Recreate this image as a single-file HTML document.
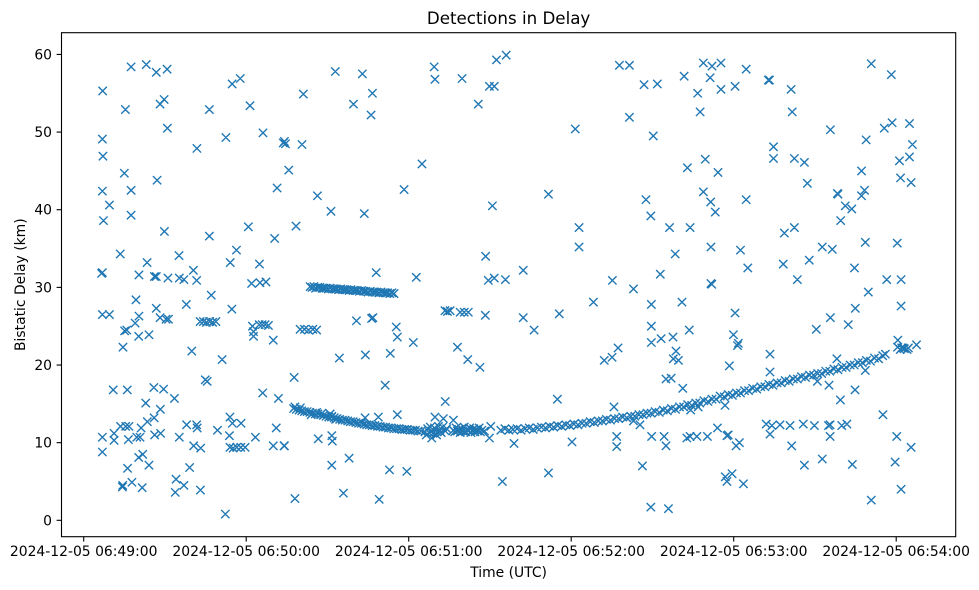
<!DOCTYPE html>
<html><head><meta charset="utf-8"><style>
html,body{margin:0;padding:0;background:#fff;}
svg{display:block;font-family:"DejaVu Sans","Liberation Sans",sans-serif;}
</style></head><body>
<svg id="chart" width="979" height="590" viewBox="0 0 979 590" xmlns="http://www.w3.org/2000/svg">
<rect x="0" y="0" width="979" height="590" fill="#fff"/>
<text x="508.6" y="24" font-size="16.7" text-anchor="middle" fill="#000">Detections in Delay</text>
<text x="508.6" y="577" font-size="13.9" text-anchor="middle" fill="#000">Time (UTC)</text>
<text transform="translate(25,284.7) rotate(-90)" font-size="13.9" text-anchor="middle" fill="#000">Bistatic Delay (km)</text>
<g id="marks"></g>
<g id="axes"></g>
<rect x="61.5" y="32.7" width="894.2" height="504" fill="none" stroke="#000" stroke-width="1.1"/>
</svg>
<script>
// x values: seconds after 06:49:00 ; y values: km
const xTickSecs = [0, 60, 120, 180, 240, 300];
const xTickLabels = ["2024-12-05 06:49:00","2024-12-05 06:50:00","2024-12-05 06:51:00","2024-12-05 06:52:00","2024-12-05 06:53:00","2024-12-05 06:54:00"];
const yTickValues = [0, 10, 20, 30, 40, 50, 60];
const yTickLabels = ["0","10","20","30","40","50","60"];

const scatterLeft = [[7.0,55.3],[17.5,58.4],[23.1,58.7],[26.8,57.7],[30.8,58.1],[15.4,52.9],[28.2,53.6],[29.7,54.2],[30.9,50.5],[6.9,49.1],[7.1,46.9],[15.0,44.7],[27.1,43.8],[6.9,42.4],[17.5,42.5],[9.5,40.6],[7.3,38.6],[17.5,39.3],[29.8,37.2],[13.5,34.3],[23.4,33.2],[35.2,34.1],[6.9,31.9],[6.6,31.8],[20.4,31.6],[26.1,31.4],[26.8,31.4],[31.1,31.2],[35.3,31.2],[37.0,31.0],[40.5,32.2],[41.7,30.9],[19.3,28.4],[37.9,27.8],[47.1,29.0],[54.1,33.2],[56.4,34.8],[46.4,36.6],[60.8,37.8],[70.5,36.3],[64.9,33.0],[62.0,30.5],[65.1,30.6],[67.3,30.7],[6.9,26.5],[9.5,26.5],[20.4,26.3],[26.8,27.3],[28.2,26.1],[30.4,25.9],[31.3,25.9],[19.0,25.4],[15.9,24.5],[15.1,24.4],[20.3,23.7],[24.1,23.9],[14.5,22.3],[39.9,21.8],[51.1,20.7],[43.0,25.6],[44.2,25.6],[45.3,25.5],[46.5,25.6],[47.6,25.5],[48.8,25.6],[54.7,27.2],[62.3,25.0],[62.7,24.3],[62.7,23.7],[64.8,25.2],[65.9,25.2],[67.0,25.2],[68.2,25.1],[70.0,23.2],[44.9,18.1],[45.6,17.9],[10.9,16.8],[16.1,16.8],[25.9,17.1],[29.5,16.9],[22.9,15.1],[28.3,14.3],[33.5,15.7],[66.1,16.4],[71.9,15.7],[6.9,10.7],[6.9,8.8],[11.2,11.2],[11.2,10.3],[13.6,12.1],[15.5,12.1],[16.7,12.1],[16.5,10.4],[19.6,10.7],[20.8,10.7],[21.2,11.9],[23.5,12.7],[26.0,13.2],[26.2,11.0],[28.4,11.2],[35.3,10.7],[38.0,12.3],[41.7,12.3],[41.9,11.9],[49.4,11.6],[54.0,13.3],[54.9,12.5],[58.1,12.5],[53.8,10.9],[63.4,10.7],[71.1,11.9],[40.6,9.6],[43.2,9.3],[54.0,9.4],[55.2,9.3],[56.5,9.4],[58.0,9.4],[59.6,9.4],[70.0,9.6],[74.1,9.6],[20.3,8.1],[21.8,8.5],[16.2,6.7],[24.1,7.1],[39.1,6.8],[14.3,4.3],[14.4,4.5],[17.8,4.9],[21.6,4.2],[34.1,5.3],[37.0,4.5],[33.8,3.6],[43.1,3.9],[52.3,0.8],[73.7,48.6],[74.1,48.8],[74.5,48.5],[75.7,45.1],[52.5,49.3],[54.8,56.2],[57.8,56.9],[61.4,53.4],[46.4,52.9],[66.2,49.9],[41.8,47.9],[71.4,42.8]];

const scatterMid = [[80.6,48.4],[81.1,54.9],[92.9,57.8],[102.9,57.5],[99.6,53.6],[106.6,55.0],[106.1,52.2],[129.4,58.4],[129.7,56.8],[139.7,56.9],[145.7,53.6],[149.8,55.9],[151.6,55.9],[152.4,59.3],[156.0,59.9],[124.9,45.9],[118.3,42.6],[150.9,40.5],[86.3,41.8],[91.3,39.8],[103.6,39.5],[78.4,37.9],[108.0,31.9],[122.8,31.3],[148.4,34.0],[149.4,30.9],[151.6,31.2],[155.7,31.0],[79.9,24.6],[81.5,24.6],[83.0,24.5],[84.6,24.6],[86.0,24.5],[100.7,25.7],[106.3,26.0],[106.8,26.1],[115.4,24.9],[115.8,23.6],[121.7,22.9],[113.2,21.5],[104.0,21.3],[94.4,20.9],[111.3,17.4],[77.7,18.4],[133.4,27.0],[134.3,26.9],[135.3,27.0],[139.0,26.8],[140.5,26.8],[142.0,26.8],[148.3,26.4],[138.0,22.3],[141.8,20.7],[146.3,19.7],[133.5,15.3],[129.7,13.3],[132.8,13.1],[136.5,12.9],[128.5,10.6],[130.3,11.0],[115.8,13.6],[108.8,13.3],[103.9,13.2],[91.6,13.4],[150.3,12.1],[149.8,10.6],[74.0,9.6],[86.6,10.5],[91.6,10.9],[91.8,10.2],[91.6,7.1],[98.0,8.0],[112.9,6.5],[119.3,6.3],[78.0,2.8],[95.9,3.5],[109.1,2.7],[154.6,5.0]];

const scatterRight = [[197.8,58.6],[201.5,58.6],[206.9,56.1],[211.8,56.2],[221.7,57.2],[228.8,58.9],[232.0,58.5],[235.3,58.9],[231.3,57.0],[226.7,55.0],[235.3,55.5],[227.6,52.6],[201.5,51.9],[181.5,50.4],[210.3,49.5],[229.5,46.5],[222.9,45.4],[234.2,44.8],[171.6,42.0],[207.6,41.3],[209.4,39.2],[228.8,42.3],[231.5,41.0],[233.2,39.7],[182.9,37.7],[182.9,35.2],[216.3,37.7],[223.9,37.7],[231.6,35.2],[218.4,34.3],[212.9,31.7],[231.6,30.5],[231.9,30.4],[162.3,32.2],[195.2,30.9],[203.0,29.8],[188.2,28.1],[209.6,27.8],[220.9,28.1],[175.6,26.6],[162.3,26.1],[166.3,24.5],[209.6,25.0],[209.6,22.9],[213.2,23.4],[217.6,23.6],[223.6,24.5],[192.2,20.6],[195.1,21.0],[197.3,22.2],[217.7,20.8],[219.6,20.6],[218.7,21.8],[215.0,18.2],[216.9,18.3],[221.2,17.0],[174.9,15.6],[195.8,14.6],[158.9,9.9],[180.3,10.1],[196.8,10.8],[196.8,9.5],[203.0,12.8],[205.4,12.3],[209.7,10.8],[214.3,10.8],[215.0,9.6],[222.7,10.6],[223.9,10.8],[226.4,10.8],[230.3,10.8],[234.0,11.9],[224.1,14.2],[226.9,14.6],[236.8,14.8],[237.5,10.9],[206.3,7.0],[171.6,6.1],[209.4,1.7],[215.9,1.5],[236.9,5.6],[237.5,5.0]];

const scatterFar = [[244.6,58.1],[240.5,55.9],[252.8,56.7],[253.2,56.7],[261.2,55.5],[261.6,52.6],[290.8,58.8],[298.2,57.4],[275.7,50.3],[288.9,49.0],[295.6,50.5],[298.5,51.2],[304.9,51.1],[306.0,48.4],[254.7,48.1],[254.7,46.6],[262.4,46.6],[266.1,46.1],[267.2,43.4],[244.6,41.3],[278.3,42.1],[278.5,42.0],[281.2,40.5],[283.6,40.1],[279.5,38.6],[287.2,45.0],[288.3,42.5],[287.2,41.8],[301.2,46.3],[304.9,46.8],[301.6,44.1],[305.5,43.5],[258.7,37.0],[262.4,37.7],[242.5,34.8],[245.2,32.5],[258.3,33.0],[263.5,31.0],[267.9,33.5],[272.7,35.2],[276.4,34.9],[288.6,35.8],[300.4,35.7],[284.6,32.5],[296.5,31.0],[301.8,31.0],[289.7,29.4],[301.8,27.6],[284.9,27.3],[282.3,25.2],[275.7,26.1],[270.5,24.6],[240.5,26.7],[239.9,23.9],[241.7,22.8],[241.4,22.5],[238.4,19.9],[253.4,21.4],[253.4,19.1],[278.1,20.8],[300.6,23.2],[302.5,22.2],[307.5,22.6],[270.9,17.9],[275.2,17.4],[279.4,15.5],[284.8,16.8],[288.6,19.3],[295.1,13.6],[252.0,12.4],[254.1,12.2],[257.1,12.3],[260.8,12.2],[265.7,12.4],[269.8,12.2],[275.0,12.2],[275.6,12.3],[279.9,12.2],[281.8,12.4],[253.4,11.1],[275.6,10.8],[238.0,11.0],[240.9,9.6],[242.1,10.0],[261.4,9.6],[300.2,10.8],[305.5,9.4],[266.1,7.1],[272.7,7.9],[283.8,7.2],[299.6,7.5],[239.4,6.0],[243.6,4.7],[301.8,4.0],[290.8,2.6]];

const trackA = [[83.6,30.1],[84.3,30.0],[85.0,30.1],[85.6,29.9],[86.4,30.0],[87.2,30.0],[88.0,29.9],[88.7,29.9],[89.5,29.9],[90.3,29.8],[91.0,29.9],[91.8,29.8],[92.6,29.8],[93.3,29.8],[94.1,29.7],[94.9,29.8],[95.6,29.7],[96.4,29.7],[97.2,29.7],[98.0,29.6],[98.7,29.7],[99.5,29.6],[100.3,29.6],[101.0,29.6],[101.8,29.5],[102.6,29.6],[103.4,29.5],[104.1,29.5],[105.0,29.4],[105.8,29.5],[106.6,29.4],[107.4,29.4],[108.2,29.4],[109.0,29.3],[109.8,29.4],[110.6,29.3],[111.4,29.3],[112.2,29.3],[113.0,29.2],[113.8,29.3],[114.6,29.2]];

const trackB = [[77.5,14.4],[78.5,14.3],[79.5,14.2],[80.5,14.1],[81.5,14.0],[82.5,14.0],[83.5,13.9],[84.5,13.8],[85.5,13.7],[86.5,13.7],[87.5,13.6],[88.5,13.5],[89.5,13.4],[90.5,13.3],[91.5,13.3],[92.5,13.2],[93.5,13.1],[94.5,13.0],[95.5,12.9],[96.5,12.9],[97.5,12.8],[98.5,12.7],[99.5,12.7],[100.5,12.6],[101.5,12.5],[102.5,12.5],[103.5,12.4],[104.5,12.3],[105.5,12.3],[106.5,12.2],[107.5,12.2],[108.5,12.1],[109.5,12.1],[110.5,12.0],[111.5,12.0],[112.5,11.9],[113.5,11.9],[114.5,11.8],[115.5,11.8],[116.5,11.8],[117.5,11.7],[118.5,11.7],[119.5,11.7],[120.5,11.6],[121.5,11.6],[122.5,11.6],[123.5,11.5],[124.5,11.5],[78.0,14.6],[80.0,14.5],[84.0,13.6],[86.0,13.9],[88.0,13.8],[91.0,13.7],[93.0,13.0]];

const clusterD = [[126.0,11.4],[126.5,11.0],[127.0,11.8],[127.5,11.3],[128.0,12.0],[128.5,11.5],[129.0,11.2],[129.5,11.9],[130.5,11.4],[131.0,12.1],[131.5,11.6],[132.0,11.3],[132.5,12.0],[133.5,11.5],[134.0,11.8],[136.5,11.6],[137.0,11.4],[137.5,11.9],[138.0,11.5],[138.5,11.7],[139.0,11.3],[139.5,11.8],[140.0,11.5],[140.5,12.0],[141.0,11.4],[141.5,11.7],[142.0,11.5],[142.5,11.9],[143.0,11.3],[143.5,11.6],[144.0,11.8],[144.5,11.4],[145.0,11.7],[145.5,11.5],[146.0,11.9],[146.5,11.4],[147.0,11.6],[148.0,11.5]];

const trackC = [[154.0,11.6],[155.5,11.8],[157.0,11.6],[158.5,11.7],[160.0,11.8],[161.5,11.6],[163.0,11.8],[164.5,11.9],[166.0,11.7],[167.5,11.9],[169.0,12.0],[170.5,11.9],[172.0,12.1],[173.5,12.0],[175.0,12.2],[176.5,12.1],[178.0,12.3],[179.5,12.2],[181.0,12.4],[182.5,12.3],[184.0,12.5],[185.5,12.5],[187.0,12.7],[188.5,12.6],[190.0,12.8],[191.5,12.8],[193.0,13.0],[194.5,12.9],[196.0,13.1],[197.5,13.1],[199.0,13.3],[200.5,13.2],[202.0,13.4],[203.5,13.4],[205.0,13.6],[206.5,13.6],[208.0,13.8],[209.5,13.8],[211.0,14.0],[212.5,13.9],[214.0,14.2],[215.5,14.1],[217.0,14.4],[218.5,14.3],[220.0,14.6],[221.5,14.6],[223.0,14.9],[224.5,14.8],[226.0,15.1],[227.5,15.1],[229.0,15.4],[230.5,15.3],[232.0,15.6],[233.5,15.6],[235.0,16.0],[236.5,15.9],[238.0,16.2],[239.5,16.1],[241.0,16.4],[242.5,16.4],[244.0,16.7],[245.5,16.7],[247.0,17.0],[248.5,16.9],[250.0,17.2],[251.5,17.2],[253.0,17.5],[254.5,17.4],[256.0,17.7],[257.5,17.7],[259.0,18.0],[260.5,17.9],[262.0,18.2],[263.5,18.2],[265.0,18.5],[266.5,18.4],[268.0,18.7],[269.5,18.7],[271.0,18.9],[272.5,18.9],[274.0,19.2],[275.5,19.2],[277.0,19.5],[278.5,19.4],[280.0,19.7],[281.5,19.7],[283.0,20.0],[284.5,20.0],[286.0,20.3],[287.5,20.3],[289.0,20.6],[290.5,20.5],[292.0,20.9],[293.5,20.8],[295.0,21.2],[296.0,21.4],[300.5,22.3],[301.5,22.0],[302.0,22.2],[303.0,22.1],[304.0,22.0],[304.5,22.2]];

const NS = "http://www.w3.org/2000/svg";
const PX0 = 83.7, PX_PER_SEC = 162.5 / 60;
const Y_MIN = -2.11, Y_MAX = 62.8, PLOT_TOP = 32.7, PLOT_BOTTOM = 536.7;
function xScale(s) { return PX0 + s * PX_PER_SEC; }
function yScale(v) { return PLOT_BOTTOM - (v - Y_MIN) / (Y_MAX - Y_MIN) * (PLOT_BOTTOM - PLOT_TOP); }

const marks = document.getElementById("marks");
const axes = document.getElementById("axes");
const R = 4.17;
function drawSeries(data, name) {
  const g = document.createElementNS(NS, "g");
  
  
  let d = "";
  data.forEach(p => {
    const cx = xScale(p[0]), cy = yScale(p[1]);
    d += "M" + (cx - R).toFixed(2) + " " + (cy - R).toFixed(2) + "L" + (cx + R).toFixed(2) + " " + (cy + R).toFixed(2) +
         "M" + (cx - R).toFixed(2) + " " + (cy + R).toFixed(2) + "L" + (cx + R).toFixed(2) + " " + (cy - R).toFixed(2);
  });
  const path = document.createElementNS(NS, "path");
  
  
  path.setAttribute("d", d);
  path.setAttribute("stroke", "#1f77b4");
  path.setAttribute("stroke-width", "1.39");
  path.setAttribute("fill", "none");
  g.appendChild(path);
  marks.appendChild(g);
}
drawSeries(scatterLeft, "scatter-left");
drawSeries(scatterMid, "scatter-mid");
drawSeries(scatterRight, "scatter-right");
drawSeries(scatterFar, "scatter-far");
drawSeries(trackA, "track-30km");
drawSeries(trackB, "track-descending");
drawSeries(clusterD, "track-cluster");
drawSeries(trackC, "track-ascending");

xTickSecs.forEach((s, i) => {
  const x = xScale(s);
  const t = document.createElementNS(NS, "line");
  
  
  t.setAttribute("x1", x); t.setAttribute("x2", x);
  t.setAttribute("y1", PLOT_BOTTOM); t.setAttribute("y2", PLOT_BOTTOM + 4.9);
  t.setAttribute("stroke", "#000"); t.setAttribute("stroke-width", "1.1");
  axes.appendChild(t);
  const lb = document.createElementNS(NS, "text");
  
  
  lb.setAttribute("x", x); lb.setAttribute("y", PLOT_BOTTOM + 19.5);
  lb.setAttribute("font-size", "13.9");
  lb.setAttribute("text-anchor", "middle");
  lb.textContent = xTickLabels[i];
  axes.appendChild(lb);
});
yTickValues.forEach((v, i) => {
  const y = yScale(v);
  const t = document.createElementNS(NS, "line");
  
  
  t.setAttribute("x1", 61.5); t.setAttribute("x2", 56.6);
  t.setAttribute("y1", y); t.setAttribute("y2", y);
  t.setAttribute("stroke", "#000"); t.setAttribute("stroke-width", "1.1");
  axes.appendChild(t);
  const lb = document.createElementNS(NS, "text");
  
  
  lb.setAttribute("x", 52); lb.setAttribute("y", y + 5);
  lb.setAttribute("font-size", "13.9");
  lb.setAttribute("text-anchor", "end");
  lb.textContent = yTickLabels[i];
  axes.appendChild(lb);
});
</script>
</body></html>
